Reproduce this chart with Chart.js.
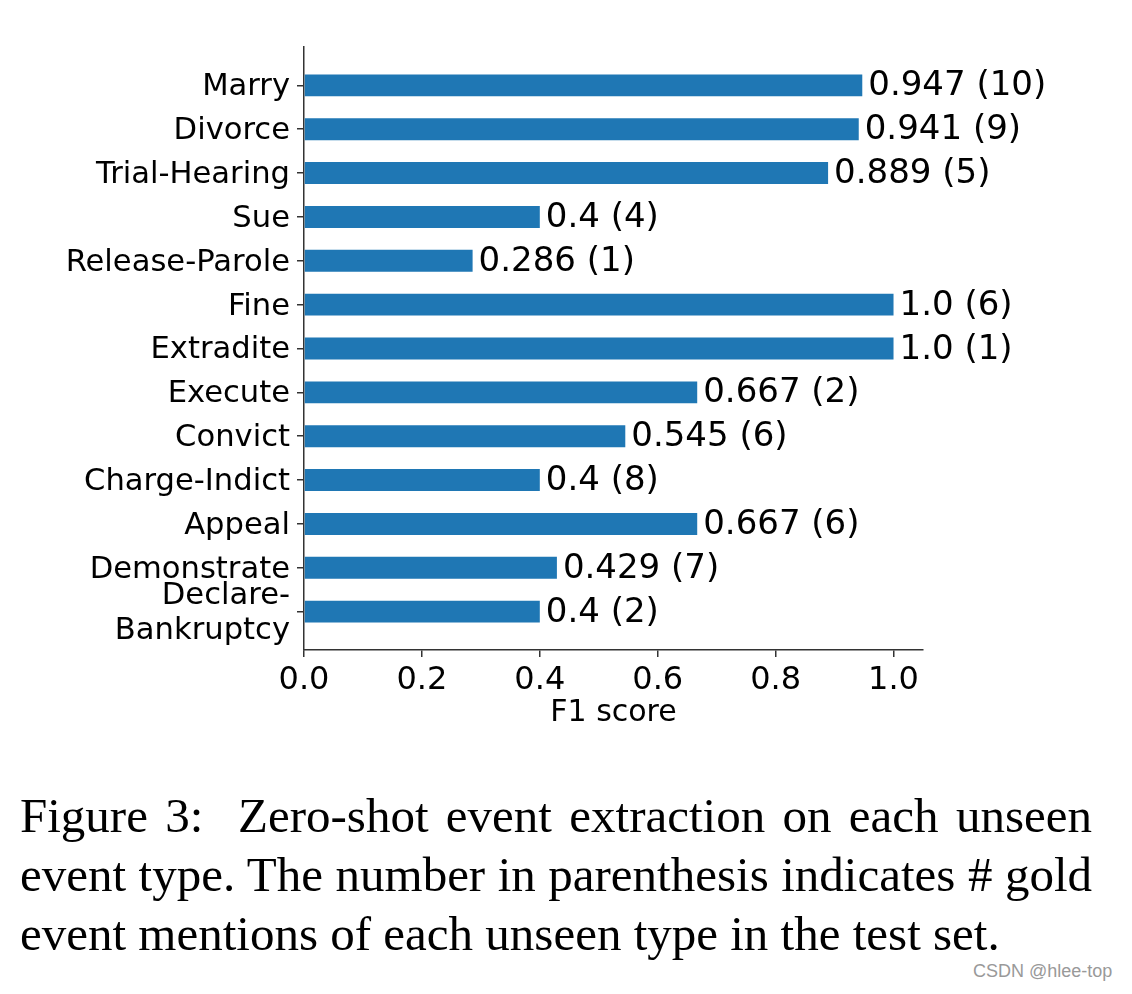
<!DOCTYPE html>
<html>
<head>
<meta charset="utf-8">
<script src="https://cdn.jsdelivr.net/npm/chart.js@4"></script>
<style>
    body { margin: 0; background: #fff; width: 1132px; height: 994px; position: relative; overflow: hidden; }
    #wrap { position: absolute; left: 0; top: 0; width: 1132px; height: 760px; }
    .cap { position: absolute; left: 20px; width: 1072px; font-family: 'Liberation Serif', serif; font-size: 49px; line-height: 59px; color: #000; white-space: nowrap; }
    .cap.j { text-align: justify; text-align-last: justify; white-space: normal; }
    #mark { position: absolute; left: 973px; top: 961px; font-family: 'Liberation Sans', sans-serif; font-size: 18px; color: #999; }
</style>
</head>
<body>
<div id="wrap"><canvas id="chart" width="1132" height="760"></canvas></div>
<div class="cap j" style="top:786px">Figure 3:&nbsp; Zero-shot event extraction on each unseen</div>
<div class="cap j" style="top:845px">event type. The number in parenthesis indicates # gold</div>
<div class="cap" style="top:904px">event mentions of each unseen type in the test set.</div>
<div id="mark">CSDN @hlee-top</div>

<script>
// event types, top to bottom
const eventTypes = ['Marry', 'Divorce', 'Trial-Hearing', 'Sue', 'Release-Parole', 'Fine', 'Extradite',
    'Execute', 'Convict', 'Charge-Indict', 'Appeal', 'Demonstrate', ['Declare-', 'Bankruptcy']];
const f1Scores = [0.947, 0.941, 0.889, 0.4, 0.286, 1.0, 1.0, 0.667, 0.545, 0.4, 0.667, 0.429, 0.4];
const goldCounts = [10, 9, 5, 4, 1, 6, 1, 2, 6, 8, 6, 7, 2];
const xTicks = [0.0, 0.2, 0.4, 0.6, 0.8, 1.0];

function fmt(v) {
    // python-style str() of a float
    return Number.isInteger(v) ? v.toFixed(1) : String(v);
}

// value (count) text after each bar
const barText = {
    id: 'barText',
    afterDatasetsDraw(chart) {
        const ctx = chart.ctx;
        const meta = chart.getDatasetMeta(0);
        ctx.save();
        ctx.font = '34px "DejaVu Sans"';
        ctx.fillStyle = '#000';
        ctx.textAlign = 'left';
        ctx.textBaseline = 'alphabetic';
        meta.data.forEach((bar, i) => {
            ctx.fillText(fmt(f1Scores[i]) + ' (' + goldCounts[i] + ')', bar.x + 6, bar.y + 10);
        });
        ctx.restore();
    }
};

const axisColor = '#333';

new Chart(document.getElementById('chart').getContext('2d'), {
    type: 'bar',
    data: {
        datasets: [{
            data: f1Scores.map((v, i) => ({ x: v, y: i })),
            backgroundColor: '#1f77b4',
            borderWidth: 0,
            categoryPercentage: 1.0,
            barPercentage: 0.5
        }]
    },
    options: {
        indexAxis: 'y',
        responsive: false,
        animation: false,
        layout: { padding: { left: 0, right: 209, top: 47, bottom: 0 } },
        plugins: { legend: { display: false }, tooltip: { enabled: false } },
        scales: {
            y: {
                type: 'linear',
                reverse: true,
                min: -0.875,
                max: 12.875,
                offset: false,
                afterBuildTicks: axis => { axis.ticks = eventTypes.map((_, i) => ({ value: i })); },
                afterFit: scale => { scale.width = 304; },
                ticks: {
                    callback: v => eventTypes[v],
                    autoSkip: false,
                    color: '#000',
                    padding: 7,
                    labelOffset: 2,
                    font: { family: 'DejaVu Sans', size: 30.6, lineHeight: 1.12 }
                },
                grid: { display: true, offset: false, drawOnChartArea: false, drawTicks: true, tickLength: 7, tickColor: axisColor, lineWidth: 1.5 },
                border: { display: true, color: axisColor, width: 1.5 }
            },
            x: {
                type: 'linear',
                min: 0,
                max: 1.05,
                afterBuildTicks: axis => { axis.ticks = xTicks.map(v => ({ value: v })); },
                afterFit: scale => { scale.height = 110; },
                ticks: {
                    callback: v => v.toFixed(1),
                    autoSkip: false,
                    color: '#000',
                    padding: 4,
                    font: { family: 'DejaVu Sans', size: 32 }
                },
                title: {
                    display: true,
                    text: 'F1 score',
                    color: '#000',
                    padding: { top: 4, bottom: 29 },
                    font: { family: 'DejaVu Sans', size: 30 }
                },
                grid: { display: true, drawOnChartArea: false, drawTicks: true, tickLength: 7, tickColor: axisColor, lineWidth: 1.5 },
                border: { display: true, color: axisColor, width: 1.5 }
            }
        }
    },
    plugins: [barText]
});
</script>
</body>
</html>
